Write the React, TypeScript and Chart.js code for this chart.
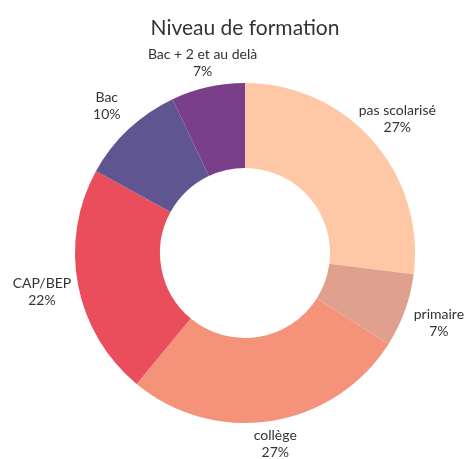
import React, { useEffect, useRef } from 'react';
import { Chart, registerables } from 'chart.js';

Chart.register(...registerables);

const titleText = 'Niveau de formation';
const categories = ['pas scolarisé', 'primaire', 'collège', 'CAP/BEP', 'Bac', 'Bac + 2 et au delà'];
const shares = [27, 7, 27, 22, 10, 7];
const sliceColors = ['#FEC7A6', '#E0A08E', '#F4937A', '#EA4D5B', '#5F5590', '#7A3F8B'];

const outsideLabels = {
  id: 'outsideLabels',
  afterDatasetsDraw(chart: any) {
    const ctx = chart.ctx;
    const meta = chart.getDatasetMeta(0);
    const data = chart.data.datasets[0].data as number[];
    const total = data.reduce((a, b) => a + b, 0);
    ctx.save();
    ctx.font = '14px Lato';
    ctx.fillStyle = '#333333';
    ctx.textAlign = 'center';
    ctx.textBaseline = 'middle';
    meta.data.forEach((arc: any, i: number) => {
      const { x, y, startAngle, endAngle, outerRadius } = arc.getProps(
        ['x', 'y', 'startAngle', 'endAngle', 'outerRadius'],
        true
      );
      const mid = (startAngle + endAngle) / 2;
      const vx = Math.cos(mid);
      const vy = Math.sin(mid);
      const d = outerRadius + 21 + 16 * Math.abs(vx);
      const px = x + vx * d;
      const py = y + vy * d;
      const lines = [String(chart.data.labels[i]), Math.round((data[i] / total) * 100) + '%'];
      const lh = 17;
      lines.forEach((t, k) => {
        ctx.fillText(t, px, py + (k - (lines.length - 1) / 2) * lh);
      });
    });
    ctx.restore();
  },
};

export default function App() {
  const ref = useRef<HTMLCanvasElement | null>(null);
  useEffect(() => {
    if (!ref.current) return;
    const chart = new Chart(ref.current, {
      type: 'doughnut',
      data: {
        labels: categories,
        datasets: [
          {
            data: shares,
            backgroundColor: sliceColors,
            borderWidth: 0,
            hoverOffset: 0,
          },
        ],
      },
      options: {
        animation: false,
        responsive: true,
        maintainAspectRatio: false,
        cutout: '50%',
        layout: { padding: { left: 75, right: 52, top: 0, bottom: 36 } },
        plugins: {
          legend: { display: false },
          tooltip: { enabled: false },
          title: {
            display: true,
            text: titleText,
            color: '#333333',
            font: { family: 'Lato', size: 21, weight: 'normal', lineHeight: 1.2 },
            padding: { top: 16, bottom: 41.8 },
          },
        },
      },
      plugins: [outsideLabels],
    });
    return () => chart.destroy();
  }, []);
  return (
    <div style={{ position: 'fixed', left: 0, top: 0, width: 467, height: 459, background: '#fff' }}>
      <canvas ref={ref} />
    </div>
  );
}
